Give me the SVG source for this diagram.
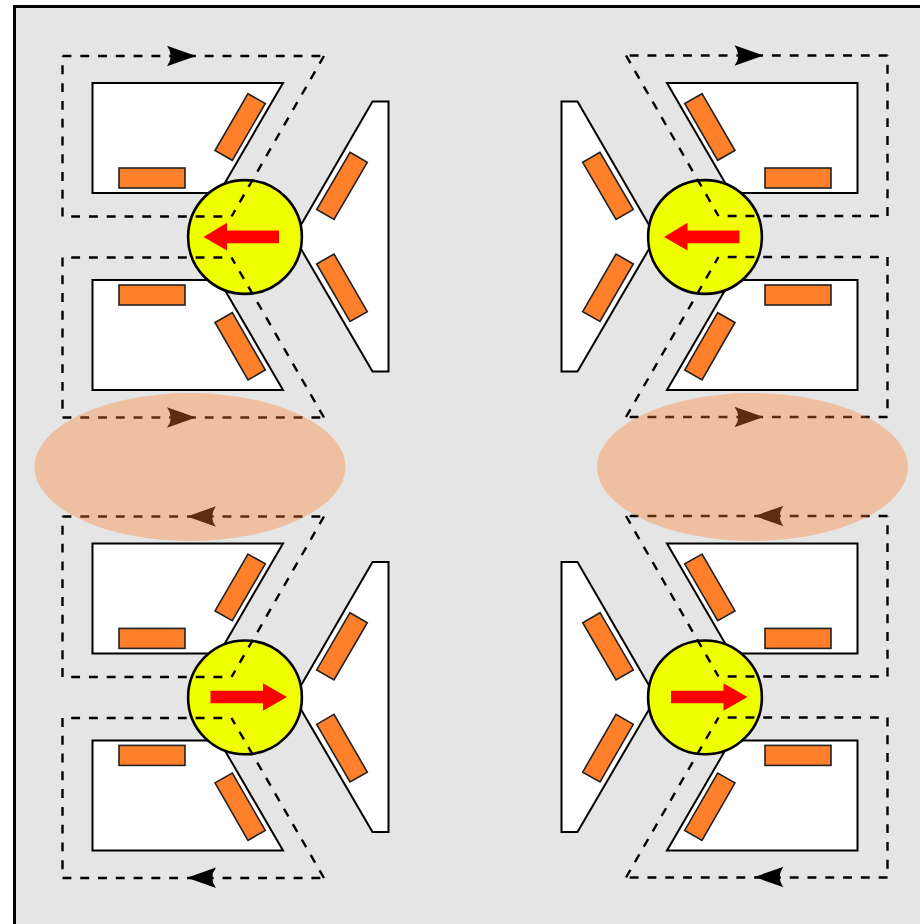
<svg xmlns="http://www.w3.org/2000/svg" width="920" height="924" viewBox="0 0 920 924">
<style>
.bg{fill:#e5e5e5;stroke:#000;stroke-width:3}
.core{fill:#fff;stroke:#000;stroke-width:2;stroke-linejoin:miter}
.coil{fill:#ff7f2a;stroke:#222;stroke-width:1.6}
.rotor{fill:#f0ff00;stroke:#000;stroke-width:2.6}
.flux{fill:none;stroke:#000;stroke-width:2.4;stroke-dasharray:8.890 8.890}
.red{fill:#f00}
.gap{fill:#ff7f2a;fill-opacity:.36}
</style>
<defs>
<g id="stator">
<path class="core" d="M92.500 83H283L219 193H92.500Z"/>
<path class="core" d="M92.500 280H219L283 390H92.500Z"/>
<path class="core" d="M372.500 101.500H388.500V371.500H372.500L294 237Z"/>
<rect class="coil" x="119" y="168" width="66" height="20"/>
<rect class="coil" x="119" y="285" width="66" height="20"/>
<path class="coil" d="M248 93.700L265.300 103.500L232.300 160.300L215 150.500Z"/>
<path class="coil" d="M215 322.500L232.300 312.700L265.300 370L248 380Z"/>
<path class="coil" d="M350 152.300L367.300 162.300L334 219.500L316.700 209.500Z"/>
<path class="coil" d="M316.700 264L334 254L367.300 311.700L350 321.500Z"/>
<circle class="rotor" cx="245" cy="237" r="56.900"/>
</g>
<path id="red-left" class="red" d="M203.500 237L227 222.700V230.500H279V243.200H227V250.500Z"/>
<path id="red-right" class="red" d="M287 697L263 683.300V690.700H210.500V703.300H263V710.700Z"/>
<path id="head" d="M14.500 0L-14.500 -10.300Q-7 0 -14.500 10.300Z"/>
<path id="loop-a" class="flux" d="M62.500 216.500V56M62.500 56H324M324 56L231.500 216.500M222.300 216.500H62.500"/>
<path id="loop-b" class="flux" d="M222.300 257.500H62.500M62.500 257.500V417.500M62.500 417.500H324M324 417.500L231.500 257.500"/>
</defs>
<rect class="bg" x="14.500" y="6.500" width="930" height="940"/>
<g id="machine-top-left">
<use href="#stator"/>
<use href="#red-left"/>
</g>
<g id="machine-top-right">
<use href="#stator" transform="matrix(-1 0 0 1 950 0)"/>
<use href="#red-left" transform="translate(460.500 0)"/>
</g>
<g id="machine-bottom-left">
<use href="#stator" transform="translate(0 460.400)"/>
<use href="#red-right"/>
</g>
<g id="machine-bottom-right">
<use href="#stator" transform="matrix(-1 0 0 1 950 460.400)"/>
<use href="#red-right" transform="translate(460.500 0)"/>
</g>
<g id="connectors">
<use href="#loop-a"/>
<use href="#loop-b"/>
<use href="#loop-a" transform="matrix(-1 0 0 1 950 -0.500)"/>
<use href="#loop-b" transform="matrix(-1 0 0 1 950 -0.500)"/>
<use href="#loop-a" transform="translate(0 460.500)"/>
<use href="#loop-b" transform="translate(0 460.500)"/>
<use href="#loop-a" transform="matrix(-1 0 0 1 950 460)"/>
<use href="#loop-b" transform="matrix(-1 0 0 1 950 460)"/>
<use href="#head" transform="translate(181.500 56)"/>
<use href="#head" transform="translate(181.500 417.500)"/>
<use href="#head" transform="translate(201.500 516.500) scale(-1 1)"/>
<use href="#head" transform="translate(201.500 877.700) scale(-1 1)"/>
<use href="#head" transform="translate(749 55.500)"/>
<use href="#head" transform="translate(749 417)"/>
<use href="#head" transform="translate(769 516) scale(-1 1)"/>
<use href="#head" transform="translate(769 877) scale(-1 1)"/>
</g>
<g id="overlap-left"><ellipse class="gap" cx="190" cy="467" rx="155.500" ry="74"/></g>
<g id="overlap-right"><ellipse class="gap" cx="752.500" cy="467" rx="155.500" ry="74"/></g>
</svg>
